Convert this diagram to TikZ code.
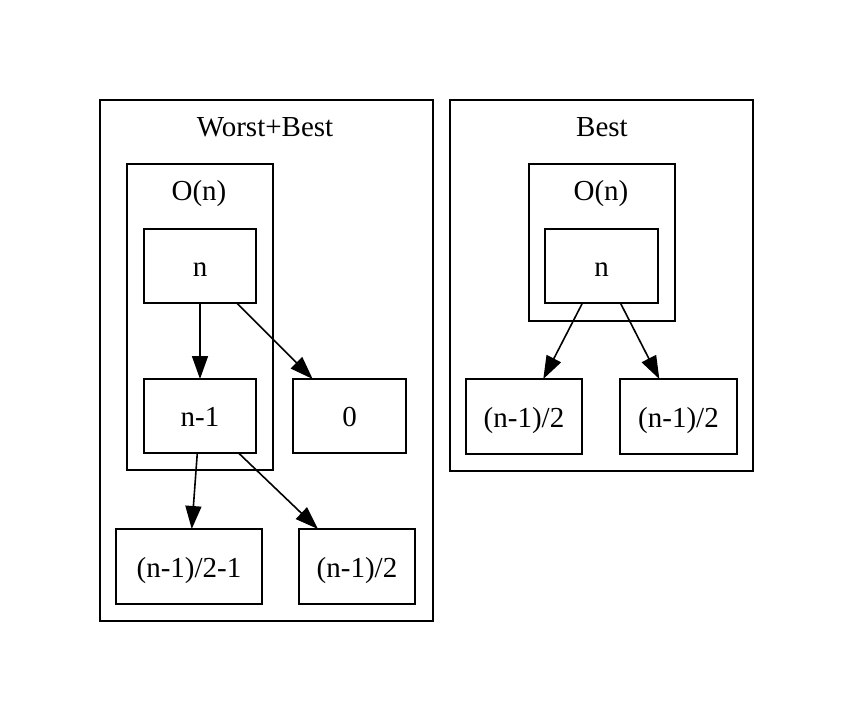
\documentclass[tikz,border=0pt]{standalone}
\usepackage{fontspec}
\setmainfont{Liberation Serif}
\usetikzlibrary{arrows.meta}
\begin{document}
\begin{tikzpicture}[x=1pt,y=-1pt,
  every node/.style={font=\fontsize{29}{34}\selectfont, outer sep=0pt, inner sep=0pt},
  box/.style={draw, line width=1.6pt, rectangle, minimum height=74pt, text height=22pt, text depth=1pt},
  cluster/.style={draw, line width=1.6pt},
  clabel/.style={anchor=base},
  edge/.style={line width=1.6pt, -{Triangle[length=23pt,width=16pt]}}]
\useasboundingbox (0,0) rectangle (855,721);
% clusters
\draw[cluster] (100,100) rectangle (433,621);
\node[clabel] (lwb) at (265,136) {Worst+Best};
\draw[cluster] (127,164) rectangle (273,470);
\node[clabel] (lo1) at (199,200) {O(n)};
\draw[cluster] (450,100) rectangle (753,471);
\node[clabel] (lb) at (602,136) {Best};
\draw[cluster] (529,164) rectangle (675,321);
\node[clabel] (lo2) at (601,200) {O(n)};
% nodes left
\node[box, minimum width=112pt] (n) at (200,266) {n};
\node[box, minimum width=112pt] (n1) at (200,416) {n-1};
\node[box, minimum width=113pt] (z) at (349.5,416) {0};
\node[box, minimum width=146pt, minimum height=75pt] (a) at (189,566.5) {(n-1)/2-1};
\node[box, minimum width=116pt, minimum height=75pt] (b) at (357,566.5) {(n-1)/2};
% nodes right
\node[box, minimum width=113pt] (m) at (601.5,266) {n};
\node[box, minimum width=116pt, minimum height=75pt] (c) at (524,416.5) {(n-1)/2};
\node[box, minimum width=117pt, minimum height=75pt] (d) at (678.5,416.5) {(n-1)/2};
% edges
\draw[edge] (n) -- (n1);
\draw[edge] (n) -- (z);
\draw[edge] (n1) -- (a);
\draw[edge] (n1) -- (b);
\draw[edge] (m) -- (c);
\draw[edge] (m) -- (d);
\end{tikzpicture}
\end{document}
